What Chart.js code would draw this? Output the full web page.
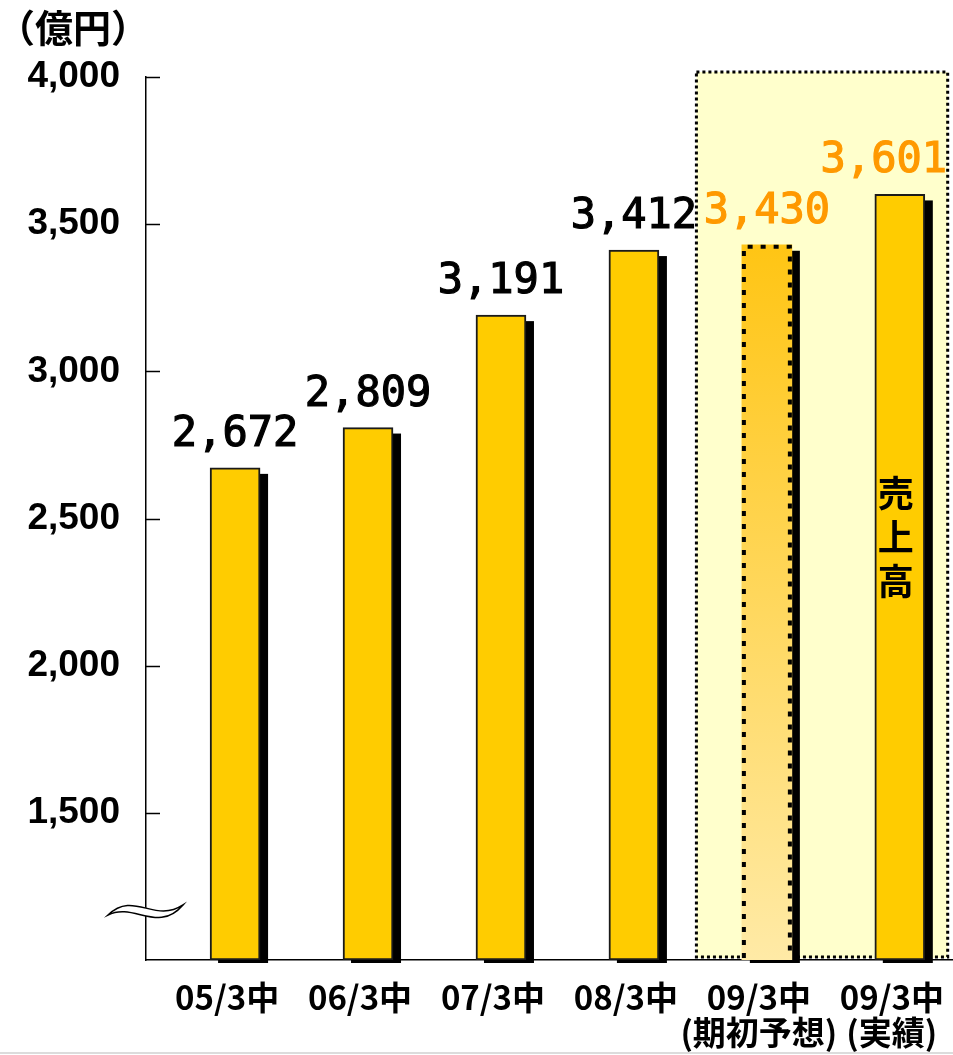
<!DOCTYPE html>
<html lang="ja">
<head>
    <meta charset="UTF-8">
    <title>売上高</title>
    <script src="https://cdn.jsdelivr.net/npm/chart.js"></script>
    <style>
        body {
            margin: 0;
            background-color: #fff;
        }
        .chart-container {
            width: 953px;
            height: 1055px;
            position: relative;
        }
    </style>
</head>
<body>
    <div class="chart-container">
        <canvas id="salesChart"></canvas>
    </div>

    <script>
        // データ
        const categories = ['05/3中', '06/3中', '07/3中', '08/3中', '09/3中', '09/3中'];
        const subLabels = ['', '', '', '', '(期初予想)', '(実績)'];
        const sales = [2672, 2809, 3191, 3412, 3430, 3601];
        const valueLabels = ['2,672', '2,809', '3,191', '3,412', '3,430', '3,601'];
        const yTicks = [1500, 2000, 2500, 3000, 3500, 4000];
        const yTickLabels = ['1,500', '2,000', '2,500', '3,000', '3,500', '4,000'];

        const FORECAST = 4;
        const jpFont = '"Noto Sans CJK JP", "Noto Sans", sans-serif';
        const numFont = '"Liberation Sans Narrow", "Liberation Sans", Arial, sans-serif';

        function barFill(c) {
            if (c.dataIndex !== FORECAST) return '#FFCC00';
            const chart = c.chart;
            const area = chart.chartArea;
            if (!area) return '#FFCC00';
            const top = chart.scales.y.getPixelForValue(sales[FORECAST]);
            const g = chart.ctx.createLinearGradient(0, top, 0, area.bottom);
            g.addColorStop(0, '#FFC514');
            g.addColorStop(1, '#FFEAA6');
            return g;
        }

        // 装飾用プラグイン
        const decoPlugin = {
            id: 'deco',
            beforeDraw(chart) {
                const ctx = chart.ctx;
                const area = chart.chartArea;
                const x = chart.scales.x;
                // 09/3中 の強調枠
                const left = x.getPixelForValue(3.47);
                const right = x.getPixelForValue(5.36);
                ctx.save();
                ctx.fillStyle = '#FFFFCC';
                ctx.fillRect(left, area.top - 5, right - left, area.bottom - area.top + 3);
                ctx.strokeStyle = '#000';
                ctx.lineWidth = 3;
                ctx.setLineDash([3, 3]);
                ctx.strokeRect(left, area.top - 5, right - left, area.bottom - area.top + 2);
                ctx.restore();
            },
            beforeDatasetsDraw(chart) {
                const ctx = chart.ctx;
                const area = chart.chartArea;
                const y = chart.scales.y;
                // 内向きの目盛り
                ctx.save();
                ctx.strokeStyle = '#000';
                ctx.lineWidth = 1.5;
                yTicks.forEach(v => {
                    const py = Math.round(y.getPixelForValue(v)) + 0.5;
                    ctx.beginPath();
                    ctx.moveTo(area.left, py);
                    ctx.lineTo(area.left + 14, py);
                    ctx.stroke();
                });
                // 棒の影
                ctx.fillStyle = '#000';
                chart.getDatasetMeta(0).data.forEach(bar => {
                    const l = bar.x - bar.width / 2 + 8;
                    ctx.fillRect(l, bar.y + 6, bar.width, bar.base - bar.y - 3);
                });
                ctx.restore();
            },
            afterDatasetsDraw(chart) {
                const ctx = chart.ctx;
                const area = chart.chartArea;
                const meta = chart.getDatasetMeta(0);

                // 予想の棒は点線枠（左・上・右）
                const fb = meta.data[FORECAST];
                const l = fb.x - fb.width / 2 + 2;
                const r = fb.x + fb.width / 2 - 2;
                ctx.save();
                ctx.strokeStyle = '#000';
                ctx.lineWidth = 4;
                ctx.setLineDash([5, 8]);
                ctx.beginPath();
                ctx.moveTo(l, fb.base - 2);
                ctx.lineTo(l, fb.y + 2);
                ctx.lineTo(r, fb.y + 2);
                ctx.lineTo(r, fb.base - 2);
                ctx.stroke();
                ctx.restore();

                // 数値ラベル
                ctx.save();
                ctx.font = '42px "DejaVu Sans Mono", monospace';
                ctx.textAlign = 'center';
                ctx.textBaseline = 'alphabetic';
                ctx.lineWidth = 1.2;
                meta.data.forEach((bar, i) => {
                    const txt = valueLabels[i];
                    const w = ctx.measureText(txt).width;
                    const cx = Math.min(bar.x, chart.width - w / 2 - 6);
                    const col = i >= FORECAST ? '#FF9900' : '#000';
                    ctx.fillStyle = col;
                    ctx.strokeStyle = col;
                    ctx.fillText(txt, cx, bar.y - 22);
                    ctx.strokeText(txt, cx, bar.y - 22);
                });
                ctx.restore();

                // 売上高（縦書き）
                const last = meta.data[meta.data.length - 1];
                ctx.save();
                ctx.font = 'bold 36px ' + jpFont;
                ctx.fillStyle = '#000';
                ctx.textAlign = 'center';
                ctx.textBaseline = 'middle';
                ['売', '上', '高'].forEach((ch, i) => {
                    ctx.fillText(ch, last.x - 4, area.top + 416 + i * 44);
                });
                ctx.restore();
            },
            afterDraw(chart) {
                const ctx = chart.ctx;
                const area = chart.chartArea;
                // 単位
                ctx.save();
                ctx.font = 'bold 38px ' + jpFont;
                ctx.fillStyle = '#000';
                ctx.textBaseline = 'middle';
                ctx.fillText('（億円）', -3, 28);
                ctx.restore();

                // 軸の省略記号
                const cx = area.left;
                const cy = chart.scales.y.getPixelForValue(1170);
                ctx.save();
                ctx.translate(cx, cy);
                ctx.beginPath();
                ctx.moveTo(-38, 5);
                ctx.bezierCurveTo(-12, -20, 8, 14, 37, -5);
                ctx.bezierCurveTo(12, 24, -12, -8, -38, 5);
                ctx.closePath();
                ctx.fillStyle = '#fff';
                ctx.fill();
                ctx.strokeStyle = '#000';
                ctx.lineWidth = 1.5;
                ctx.stroke();
                ctx.restore();

                // 下端の線
                ctx.save();
                ctx.fillStyle = '#dcdcdc';
                ctx.fillRect(0, chart.height - 3, chart.width, 2);
                ctx.restore();
            }
        };

        const config = {
            type: 'bar',
            data: {
                datasets: [{
                    data: sales.map((v, i) => ({ x: i, y: v })),
                    base: 1000,
                    barThickness: 50,
                    backgroundColor: barFill,
                    borderColor: '#1a1a1a',
                    borderWidth: sales.map((v, i) => i === FORECAST ? 0 : 2),
                    borderSkipped: false
                }]
            },
            options: {
                responsive: true,
                maintainAspectRatio: false,
                animation: false,
                layout: { padding: { top: 77, left: 0, right: 0, bottom: 0 } },
                plugins: {
                    legend: { display: false },
                    tooltip: { enabled: false },
                    title: { display: false }
                },
                scales: {
                    x: {
                        type: 'linear',
                        offset: false,
                        min: -0.67,
                        max: 5.4,
                        afterBuildTicks: s => { s.ticks = categories.map((c, i) => ({ value: i })); },
                        afterFit: s => {
                            s.height = 95;
                            s.paddingLeft = 0;
                            s.paddingRight = 0;
                        },
                        grid: { display: false, drawTicks: false },
                        border: { display: true, color: '#000', width: 1.5 },
                        ticks: {
                            autoSkip: false,
                            maxRotation: 0,
                            padding: 20,
                            labelOffset: -8,
                            color: '#000',
                            font: { family: jpFont, size: 33, weight: 'bold', lineHeight: 1.05 },
                            callback: v => subLabels[v] ? [categories[v], subLabels[v]] : categories[v]
                        }
                    },
                    y: {
                        min: 1000,
                        max: 4000,
                        afterBuildTicks: s => { s.ticks = yTicks.map(v => ({ value: v })); },
                        afterFit: s => {
                            s.width = 146;
                            s.paddingTop = 0;
                            s.paddingBottom = 0;
                        },
                        grid: { display: false, drawTicks: false },
                        border: { display: true, color: '#000', width: 1.5 },
                        ticks: {
                            padding: 26,
                            color: '#000',
                            font: { family: numFont, size: 37, weight: 'bold' },
                            callback: (v, i) => yTickLabels[i]
                        }
                    }
                }
            },
            plugins: [decoPlugin]
        };

        const ctx = document.getElementById('salesChart').getContext('2d');
        new Chart(ctx, config);
    </script>
</body>
</html>
